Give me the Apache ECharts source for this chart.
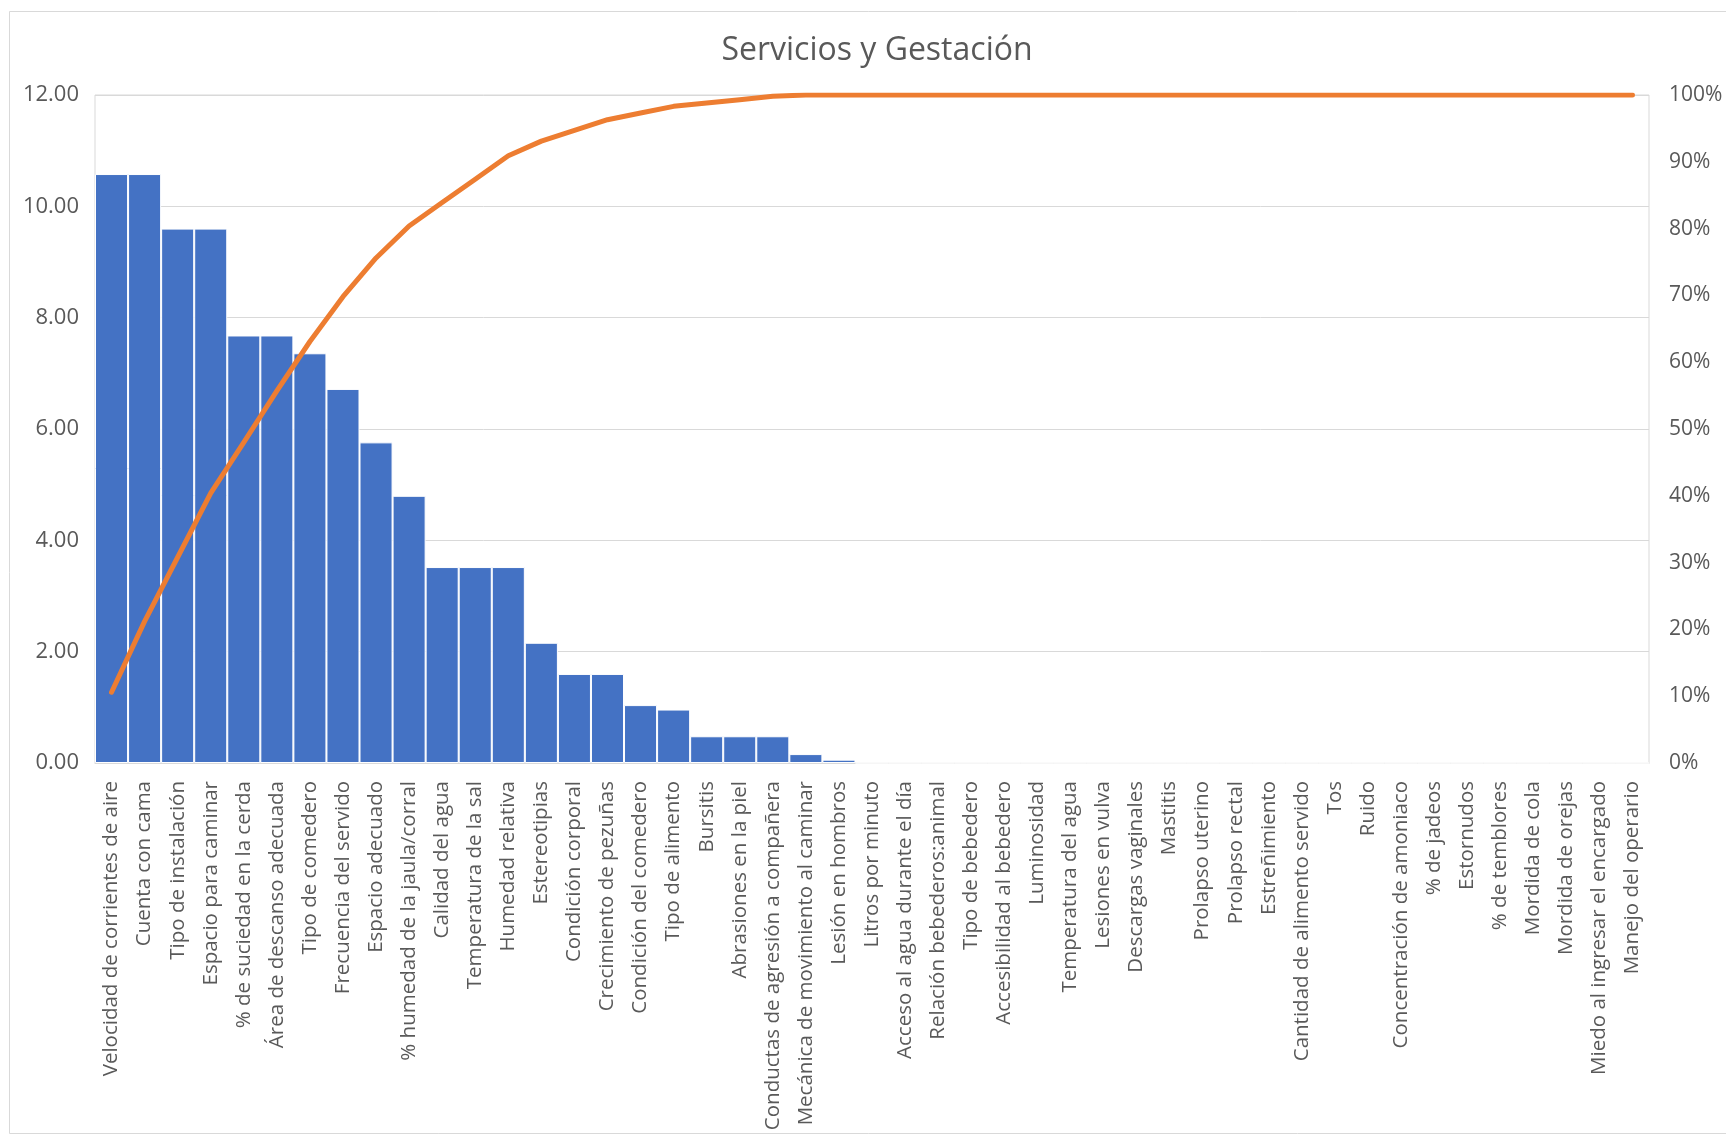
<!DOCTYPE html>
<html>
<head>
<meta charset="utf-8">
<title>Servicios y Gestación</title>
<script src="https://cdn.jsdelivr.net/npm/echarts@6/dist/echarts.min.js"></script>
<style>
  html, body { margin: 0; padding: 0; background: #ffffff; }
  #chart { width: 1726px; height: 1139px; }
</style>
</head>
<body>
<div id="chart"></div>
<script>
// Indicators, ordered from largest to smallest share
const categories = [
  'Velocidad de corrientes de aire', 'Cuenta con cama', 'Tipo de instalación', 'Espacio para caminar',
  '% de suciedad en la cerda', 'Área de descanso adecuada', 'Tipo de comedero', 'Frecuencia del servido',
  'Espacio adecuado', '% humedad de la jaula/corral', 'Calidad del agua', 'Temperatura de la sal',
  'Humedad relativa', 'Estereotipias', 'Condición corporal', 'Crecimiento de pezuñas',
  'Condición del comedero', 'Tipo de alimento', 'Bursitis', 'Abrasiones en la piel',
  'Conductas de agresión a compañera', 'Mecánica de movimiento al caminar', 'Lesión en hombros',
  'Litros por minuto', 'Acceso al agua durante el día', 'Relación bebederos:animal', 'Tipo de bebedero',
  'Accesibilidad al bebedero', 'Luminosidad', 'Temperatura del agua', 'Lesiones en vulva',
  'Descargas vaginales', 'Mastitis', 'Prolapso uterino', 'Prolapso rectal', 'Estreñimiento',
  'Cantidad de alimento servido', 'Tos', 'Ruido', 'Concentración de amoniaco', '% de jadeos',
  'Estornudos', '% de temblores', 'Mordida de cola', 'Mordida de orejas',
  'Miedo al ingresar el encargado', 'Manejo del operario'
];

// Share of each indicator (left axis)
const shareValues = [
  10.58, 10.58, 9.60, 9.60, 7.68, 7.68, 7.36, 6.72, 5.76, 4.80,
  3.52, 3.52, 3.52, 2.16, 1.60, 1.60, 1.04, 0.96, 0.48, 0.48,
  0.48, 0.16, 0.06, 0, 0, 0, 0, 0, 0, 0,
  0, 0, 0, 0, 0, 0, 0, 0, 0, 0,
  0, 0, 0, 0, 0, 0, 0
];

// Cumulative percentage (right axis)
const cumulativePct = [
  10.6, 21.2, 30.8, 40.4, 48.0, 55.7, 63.1, 69.8, 75.6, 80.4,
  83.9, 87.4, 90.9, 93.1, 94.7, 96.3, 97.3, 98.3, 98.8, 99.3,
  99.8, 100, 100, 100, 100, 100, 100, 100, 100, 100,
  100, 100, 100, 100, 100, 100, 100, 100, 100, 100,
  100, 100, 100, 100, 100, 100, 100
];

const leftTicks = { min: 0, max: 12, interval: 2 };
const rightTicks = { min: 0, max: 100, interval: 10 };

const textColor = '#595959';
const fontFamily = '"Open Sans", "Noto Sans", "DejaVu Sans", sans-serif';

const chart = echarts.init(document.getElementById('chart'), null, { renderer: 'canvas' });

chart.setOption({
  animation: false,
  backgroundColor: '#ffffff',
  textStyle: { fontFamily: fontFamily, color: textColor },
  title: {
    text: 'Servicios y Gestación',
    left: 872,
    textAlign: 'center',
    top: 30,
    textStyle: { fontFamily: fontFamily, fontSize: 32, fontWeight: 'normal', color: textColor }
  },
  graphic: [{
    type: 'rect',
    shape: { x: 9.5, y: 11.5, width: 1730, height: 1122 },
    style: { fill: 'none', stroke: '#d9d9d9', lineWidth: 1 },
    silent: true
  }],
  grid: {
    left: 95, right: 77, top: 95, bottom: 376,
    show: true, borderColor: '#d9d9d9', borderWidth: 1
  },
  xAxis: {
    type: 'category',
    data: categories,
    axisTick: { show: false },
    axisLine: { show: true, lineStyle: { color: '#d9d9d9', width: 1 } },
    axisLabel: {
      interval: 0,
      rotate: 90,
      margin: 18,
      fontSize: 20.5,
      color: textColor,
      fontFamily: fontFamily
    }
  },
  yAxis: [{
    type: 'value',
    min: leftTicks.min, max: leftTicks.max, interval: leftTicks.interval,
    axisLine: { show: false },
    axisTick: { show: false },
    splitLine: { show: true, lineStyle: { color: '#d9d9d9', width: 1 } },
    axisLabel: {
      margin: 16, fontSize: 22, color: textColor, fontFamily: fontFamily,
      formatter: v => v.toFixed(2)
    }
  }, {
    type: 'value',
    position: 'right',
    min: rightTicks.min, max: rightTicks.max, interval: rightTicks.interval,
    axisLine: { show: false },
    axisTick: { show: false },
    splitLine: { show: false },
    axisLabel: {
      margin: 20, fontSize: 21, color: textColor, fontFamily: fontFamily,
      formatter: v => v + '%'
    }
  }],
  series: [{
    name: 'Participación',
    type: 'bar',
    data: shareValues,
    barCategoryGap: '0%',
    itemStyle: { color: '#4472C4', borderColor: '#ffffff', borderWidth: 1 },
    z: 2
  }, {
    name: 'Acumulado',
    type: 'line',
    yAxisIndex: 1,
    data: cumulativePct,
    symbol: 'none',
    smooth: false,
    lineStyle: { color: '#ED7D31', width: 5, cap: 'round', join: 'round' },
    z: 3
  }]
});
</script>
</body>
</html>
